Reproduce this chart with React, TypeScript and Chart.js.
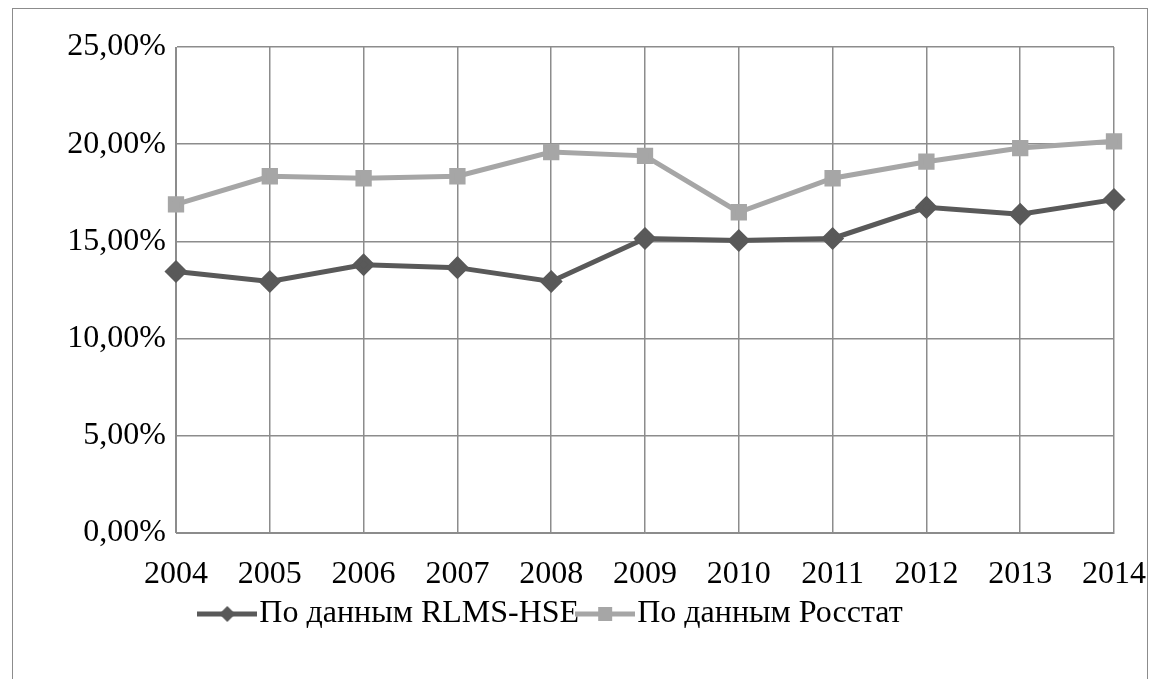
import React, { useEffect, useRef } from "react";
import { Chart, registerables } from "chart.js";
Chart.register(...registerables);

const years = ["2004","2005","2006","2007","2008","2009","2010","2011","2012","2013","2014"];
const rlms = [13.45, 12.94, 13.8, 13.65, 12.94, 15.15, 15.05, 15.15, 16.75, 16.4, 17.15];
const rosstat = [16.9, 18.35, 18.25, 18.35, 19.6, 19.4, 16.5, 18.25, 19.1, 19.8, 20.15];
const names = ["По данным RLMS-HSE", "По данным Росстат"];

function legendIcon(color: string, shape: "diamond" | "square") {
  const c = document.createElement("canvas");
  c.width = 60; c.height = 20;
  const g = c.getContext("2d")!;
  g.strokeStyle = color; g.lineWidth = 5;
  g.beginPath(); g.moveTo(0, 10); g.lineTo(60, 10); g.stroke();
  g.fillStyle = color;
  if (shape === "diamond") {
    g.beginPath(); g.moveTo(30, 2); g.lineTo(38, 10); g.lineTo(30, 18); g.lineTo(22, 10); g.closePath(); g.fill();
  } else {
    g.fillRect(23, 3, 14, 14);
  }
  return c;
}

export default function App() {
  const ref = useRef<HTMLCanvasElement>(null);
  useEffect(() => {
    document.body.style.margin = "0";
    const icons = [legendIcon("#595959", "diamond"), legendIcon("#a6a6a6", "square")];
    const font = { family: "'Liberation Serif', serif", size: 32 };
    const chart = new Chart(ref.current!, {
      type: "line",
      data: {
        labels: years,
        datasets: [
          { label: names[0], data: rlms, borderColor: "#595959", backgroundColor: "#595959", borderWidth: 5, pointStyle: "rectRot", pointRadius: 8, tension: 0 },
          { label: names[1], data: rosstat, borderColor: "#a6a6a6", backgroundColor: "#a6a6a6", borderWidth: 5, pointStyle: "rect", pointRadius: 8, tension: 0 },
        ],
      },
      options: {
        animation: false,
        responsive: false,
        layout: { padding: { top: 47, right: 41, left: 0, bottom: 39 } },
        plugins: {
          tooltip: { enabled: false },
          legend: {
            position: "bottom",
            labels: {
              font, color: "#000", usePointStyle: true, padding: 10,
              generateLabels: () => names.map((n, i) => ({ text: n, pointStyle: icons[i] as any, fillStyle: "#000", strokeStyle: "#000", lineWidth: 0, datasetIndex: i, fontColor: "#000" })),
            },
          },
        },
        scales: {
          x: {
            offset: false,
            grid: { color: "#8c8c8c", lineWidth: 1.5, drawTicks: false },
            border: { color: "#8c8c8c" },
            ticks: { font, color: "#000", padding: 22, maxRotation: 0 },
            afterFit: (s: any) => { s.height = 55; s.paddingLeft = 0; s.paddingRight = 0; },
          },
          y: {
            min: 0, max: 25,
            grid: { color: "#8c8c8c", lineWidth: 1.5, drawTicks: false },
            border: { color: "#8c8c8c" },
            ticks: { stepSize: 5, font, color: "#000", padding: 10, callback: (v: any) => Number(v).toFixed(2).replace(".", ",") + "%" },
            afterFit: (s: any) => { s.width = 176; s.paddingTop = 0; s.paddingBottom = 0; },
          },
        },
      },
    });
    return () => chart.destroy();
  }, []);
  return (
    <div style={{ position: "relative", width: 1155, height: 679, background: "#fff" }}>
      <div style={{ position: "absolute", left: 12, top: 8, width: 1136, height: 680, border: "1.5px solid #8c8c8c", boxSizing: "border-box" }} />
      <canvas ref={ref} width={1155} height={679} style={{ position: "absolute", left: 0, top: 0 }} />
    </div>
  );
}
